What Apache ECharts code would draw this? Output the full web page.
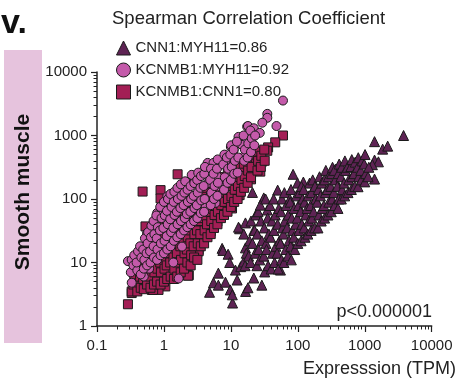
<!DOCTYPE html>
<html><head><meta charset="utf-8">
<script src="https://cdn.jsdelivr.net/npm/echarts@6/dist/echarts.min.js"></script>
<style>html,body{margin:0;padding:0;background:#fff}#c{width:457px;height:380px}</style>
</head><body><div id="c"></div>
<script>
const seriesNames = ['CNN1:MYH11=0.86', 'KCNMB1:MYH11=0.92', 'KCNMB1:CNN1=0.80'];
const xTicks = [0.1, 1, 10, 100, 1000, 10000];
const yTicks = [1, 10, 100, 1000, 10000];

// CNN1 vs MYH11 (triangles)
const cnn1Myh11 = [
[4.8,3.4],[10.6,2.3],[5.5,4.8],[6.5,6.8],[6.5,4.4],[7.4,16.7],[7.6,15.5],[8.3,4.9],[9.1,13.5],[9.6,10],[9.8,3.7],[11.7,7.6],[12.4,5.3],[13.5,34],[13,36],[14,8.6],[15.5,10.2],[16.5,42],[16.5,17],[16.6,3.5],[18,4],[22,5.7],[29,4.4],[55,7.6],[21,127],[85,245],[121,185],[50,138],[365,295],[3800,1000],[1400,800],[1850,610],[2200,680],[1400,410],[1600,385],[1400,206],[1300,347],[31,104],[35,67],[22,32],[10.5,3.1],
[16.3,8.9],[15.6,28],[17,14],[18.4,12.6],[19,22],[19.6,10],[21,20],[20,45],[23,14],[22.6,32],[23.5,56],
[24.5,8.9],[26,16],[24.8,28],[25.5,63],[27,11],[29,22],[28,45],[27.5,80],
[32,7.1],[31,12.6],[33.5,20],[31.5,35],[33,100],[36,8.9],[34,16],[37,28],[35.5,50],
[40,7.9],[42,14],[39,25],[41,45],[38.5,79],[45,10],[47,18],[44,32],[46,56],[43.5,100],
[51,7.9],[49,14],[53,22],[50,40],[52,71],[57,11],[55,20],[59,35],[56,63],[58,100],
[62,10],[66,16],[61,28],[64,45],[67,79],[63,126],[71,12.6],[74,22],[69,35],[72,56],[76,100],
[80,11],[78,18],[83,32],[81,50],[77,89],[79,141],[90,16],[87,25],[93,40],[88,71],[95,112],
[100,20],[104,32],[98,50],[102,79],[106,126],[99,178],[112,22],[115,40],[110,63],[118,100],[113,158],
[128,25],[124,35],[131,56],[126,89],[122,141],[141,28],[146,45],[138,71],[143,112],[150,178],
[158,32],[163,50],[155,79],[160,126],[167,200],[178,35],[172,63],[185,100],[180,158],
[200,35],[207,56],[195,89],[203,141],[211,224],[224,45],[232,71],[218,112],[228,178],
[251,50],[245,79],[258,126],[250,200],[262,282],[282,56],[290,89],[276,141],[286,224],
[316,63],[325,100],[310,158],[320,251],[330,316],[355,79],[345,126],[362,200],[350,282],
[398,71],[410,100],[390,158],[402,251],[415,355],[447,100],[460,141],[440,224],[452,316],
[501,112],[490,178],[515,282],[505,398],[562,126],[575,200],[550,316],
[631,141],[645,224],[620,324],[640,417],[708,158],[690,251],[720,380],
[794,156],[810,224],[780,316],[800,447],[891,200],[870,282],[910,398],
[1000,186],[1030,251],[980,355],[1010,501],[1120,224],[1150,316]
];

// KCNMB1 vs MYH11 (circles)
const kcnmb1Myh11 = [
[0.29,10.5],[0.4,12.3],[0.33,4.8],[0.49,6.3],[0.41,11],[0.56,29],[0.79,60],[1.12,110],[2.2,186],[4.5,370],[10,660],[13,950],[17.5,1380],[60,3550],[35,2190],[35,1900],[29.5,1590],[48,1410],[18,1410],[22,1300],[27,1100],[14.7,710],[19.6,665],[15.5,465],[11,590],[5.5,370],[8.3,390],[6.3,224],[4.5,178],[5.9,87],[4.2,76],[9.8,270],[7,156],[1.66,5.6],[1.38,10],[1.86,17.8],[0.5,6],[0.6,8],
[0.32,7],[0.33,11],[0.35,9],[0.36,13],[0.4,7.5],[0.39,10],[0.41,15],[0.45,6.5],[0.46,12],[0.44,18],
[0.5,8],[0.51,11],[0.49,16],[0.52,24],[0.56,9],[0.55,14],[0.57,20],[0.58,30],
[0.63,10],[0.62,15],[0.64,25],[0.65,38],[0.71,12],[0.7,18],[0.72,28],[0.7,45],
[0.79,11],[0.8,16],[0.78,24],[0.81,36],[0.77,55],[0.89,13],[0.9,20],[0.87,32],[0.92,50],[0.88,75],
[1,14],[1.02,22],[0.98,35],[1.03,55],[1,90],[1.12,16],[1.1,26],[1.14,40],[1.11,65],[1.15,100],
[1.26,18],[1.28,30],[1.24,48],[1.3,75],[1.25,120],[1.41,22],[1.38,35],[1.44,56],[1.4,90],[1.43,130],
[1.58,25],[1.6,40],[1.56,63],[1.62,100],[1.59,150],[1.78,28],[1.8,45],[1.76,72],[1.83,112],[1.79,170],
[2,32],[2.05,50],[1.97,80],[2.02,126],[2.08,190],[2.24,36],[2.2,58],[2.28,90],[2.25,140],
[2.51,40],[2.48,63],[2.55,100],[2.5,160],[2.6,240],[2.82,45],[2.86,72],[2.78,112],[2.84,178],
[3.16,50],[3.1,80],[3.2,126],[3.14,200],[3.25,260],[3.55,60],[3.6,95],[3.5,150],[3.58,230],
[3.98,63],[4.05,100],[3.92,160],[4,250],[4.1,320],[5,80],[5.1,126],[4.9,200],[5.05,300],
[5.6,100],[5.7,160],[5.5,250],[6.3,112],[6.4,180],[6.2,300],[6.35,420],
[7.9,140],[8.1,220],[7.7,350],[8,500],[8.9,180],[9.1,300],[8.7,450],
[10,200],[10.3,320],[9.8,500],[10.1,700],[11.2,250],[11.5,400],[11,600],
[12.6,260],[12.9,450],[12.3,800],[15.8,400],[16.2,600],[15.5,1000],[17.8,450],[18.2,750],
[20,550],[20.5,900],[19.5,1200],[22.4,700],[23,1000]
];

// KCNMB1 vs CNN1 (squares)
const kcnmb1Cnn1 = [
[0.29,2.2],[0.33,3.3],[0.4,5.9],[0.66,3.7],[0.59,5],[1.05,4.2],[0.83,3.7],[2.2,6.3],[3.3,15.8],[2.5,32],[2,11.7],[3.3,15],[2.35,6.3],[10.4,71],[13,115],[6.3,44],[5,31],[0.48,131],[0.89,138],[0.89,102],[0.53,37],[0.4,6],[0.33,3.5],[0.69,3.7],[2.3,6.2],[60,1000],[46,780],[36,650],[35,575],[22.5,420],[29.5,390],[27.5,270],[20,204],[13.5,115],[16.5,260],[13,178],[7.8,91],[7,71],[4.4,44],[1.6,245],
[0.35,4.5],[0.36,6.5],[0.4,3.5],[0.41,8],[0.45,4],[0.44,6],[0.46,9],
[0.5,3.8],[0.49,5.5],[0.51,8],[0.5,13],[0.56,4.5],[0.55,7],[0.57,10],[0.56,16],
[0.63,4],[0.62,6],[0.64,9],[0.63,14],[0.61,20],[0.71,4.5],[0.72,7],[0.7,11],[0.73,16],[0.71,25],
[0.79,5],[0.8,8],[0.78,12],[0.81,20],[0.79,30],[0.89,4.5],[0.9,7],[0.88,10],[0.91,16],[0.89,25],[0.87,35],
[1,5],[1.02,8],[0.98,12],[1.01,18],[1.03,28],[0.99,40],[1.12,5.5],[1.1,9],[1.14,14],[1.12,22],[1.15,45],
[1.26,6],[1.24,10],[1.28,16],[1.25,25],[1.27,50],[1.41,5.5],[1.43,8],[1.39,12],[1.42,20],[1.4,32],[1.44,56],
[1.58,6],[1.6,10],[1.56,14],[1.59,22],[1.62,35],[1.57,63],[1.78,7],[1.8,11],[1.76,18],[1.79,28],[1.82,45],
[2,8],[2.03,14],[1.97,20],[2.01,32],[2.05,56],[1.98,80],[2.24,10],[2.2,16],[2.27,25],[2.22,40],[2.26,63],
[2.51,9],[2.55,13],[2.48,20],[2.52,32],[2.5,50],[2.56,90],[2.82,12],[2.78,18],[2.85,28],[2.8,45],[2.84,70],
[3.16,11],[3.2,20],[3.12,32],[3.18,50],[3.14,80],[3.22,110],[3.55,18],[3.5,28],[3.6,45],[3.54,70],[3.58,110],
[3.98,20],[4.05,32],[3.92,50],[4,80],[4.08,126],[4.47,25],[4.4,40],[4.55,63],[4.5,100],[4.42,150],
[5,28],[5.1,45],[4.92,70],[5.05,110],[5.12,170],[5.6,35],[5.7,56],[5.5,90],[5.65,140],
[6.3,40],[6.4,63],[6.2,100],[6.35,160],[6.45,220],[7.1,50],[7.2,80],[7,126],[7.15,200],
[7.9,56],[8.05,90],[7.8,140],[8,220],[8.9,63],[9.05,100],[8.8,160],[9,250],
[10,75],[10.2,110],[9.8,180],[10.1,280],[11.2,90],[11.4,140],[11,220],[11.3,320],
[12.6,100],[12.8,160],[12.4,250],[12.7,400],[14.1,130],[14.4,200],[13.9,320],
[15.8,150],[16.1,230],[15.6,360],[17.8,180],[18.1,280],[17.5,450],
[20,220],[20.4,320],[19.7,500],[25,280],[25.5,400],[24.5,560],[28,320],[28.5,480],[32,400],[31.5,600]
];

const FONT = '"Liberation Sans", Arial, Helvetica, sans-serif';
const minorX = [], minorY = [];
for (let d = 0.1; d < 10000; d *= 10) for (let k = 2; k <= 9; k++) minorX.push(+(d * k).toPrecision(3));
for (let d = 1; d < 10000; d *= 10) for (let k = 2; k <= 9; k++) minorY.push(+(d * k).toPrecision(3));

const chart = echarts.init(document.getElementById('c'), null, {renderer: 'canvas'});
const axisColor = '#222';
const border = {borderColor: '#1a1a1a', borderWidth: 1};
chart.setOption({
  animation: false,
  backgroundColor: '#fff',
  grid: {left: 97, right: 25.3, top: 72, bottom: 54, outerBoundsMode: 'none', containLabel: false},
  xAxis: [
    {type: 'log', logBase: 10, min: 0.1, max: 10000, position: 'bottom',
     axisLine: {show: true, onZero: false, lineStyle: {color: axisColor, width: 1.5}},
     axisTick: {show: true, length: 6, lineStyle: {color: axisColor, width: 1.2}, customValues: xTicks},
     axisLabel: {customValues: xTicks, margin: 12, fontSize: 15, color: '#222', fontFamily: FONT,
       formatter: v => String(+(+v).toPrecision(3))},
     splitLine: {show: false}, minorTick: {show: false}},
    {type: 'log', logBase: 10, min: 0.1, max: 10000, position: 'bottom', offset: 0,
     axisLine: {show: false, onZero: false},
     axisTick: {show: true, length: 3.5, lineStyle: {color: axisColor, width: 1}, customValues: minorX},
     axisLabel: {show: false}, splitLine: {show: false}}
  ],
  yAxis: [
    {type: 'log', logBase: 10, min: 1, max: 10000, position: 'left',
     axisLine: {show: true, onZero: false, lineStyle: {color: axisColor, width: 1.5}},
     axisTick: {show: true, length: 6, lineStyle: {color: axisColor, width: 1.2}, customValues: yTicks},
     axisLabel: {customValues: yTicks, margin: 10, fontSize: 15, color: '#222', fontFamily: FONT,
       formatter: v => String(+(+v).toPrecision(3))},
     splitLine: {show: false}},
    {type: 'log', logBase: 10, min: 1, max: 10000, position: 'left', offset: 0,
     axisLine: {show: false, onZero: false},
     axisTick: {show: true, length: 3.5, lineStyle: {color: axisColor, width: 1}, customValues: minorY},
     axisLabel: {show: false}, splitLine: {show: false}}
  ],
  legend: {
    orient: 'vertical', left: 111, top: 35.5, itemWidth: 14, itemHeight: 14, itemGap: 7,
    textStyle: {fontSize: 15, color: '#222', fontFamily: FONT},
    itemStyle: {borderColor: '#1a1a1a', borderWidth: 1},
    selectedMode: false,
    data: [
      {name: seriesNames[0], icon: 'triangle'},
      {name: seriesNames[1], icon: 'circle'},
      {name: seriesNames[2], icon: 'rect'}
    ]
  },
  series: [
    {name: seriesNames[2], type: 'scatter', data: kcnmb1Cnn1, symbol: 'rect', symbolSize: 9,
     itemStyle: Object.assign({color: '#a31e55', opacity: 1}, border), z: 2},
    {name: seriesNames[1], type: 'scatter', data: kcnmb1Myh11, symbol: 'circle', symbolSize: 9,
     itemStyle: Object.assign({color: '#c45aaa', opacity: 1}, border), z: 3},
    {name: seriesNames[0], type: 'scatter', data: cnn1Myh11, symbol: 'triangle', symbolSize: 10,
     itemStyle: Object.assign({color: '#5e2354', opacity: 1}, border), z: 4}
  ],
  graphic: [
    {type: 'rect', left: 4, top: 50, shape: {width: 38, height: 293}, style: {fill: '#e6c3dd'}, silent: true},
    {type: 'text', x: 23, y: 192, rotation: Math.PI / 2,
     style: {text: 'Smooth muscle', font: 'bold 21px ' + FONT, fill: '#111', textAlign: 'center', textVerticalAlign: 'middle'}},
    {type: 'text', x: 1, y: 24, style: {text: 'v.', font: '900 34px ' + FONT, fill: '#111', textAlign: 'left', textVerticalAlign: 'middle'}},
    {type: 'text', x: 112, y: 19, style: {text: 'Spearman Correlation Coefficient', font: '18.5px ' + FONT, fill: '#222', textAlign: 'left', textVerticalAlign: 'middle'}},
    {type: 'text', x: 432, y: 312, style: {text: 'p<0.000001', font: '18px ' + FONT, fill: '#222', textAlign: 'right', textVerticalAlign: 'middle'}},
    {type: 'text', x: 456, y: 369, style: {text: 'Expresssion (TPM)', font: '18px ' + FONT, fill: '#222', textAlign: 'right', textVerticalAlign: 'middle'}}
  ]
});
</script></body></html>
